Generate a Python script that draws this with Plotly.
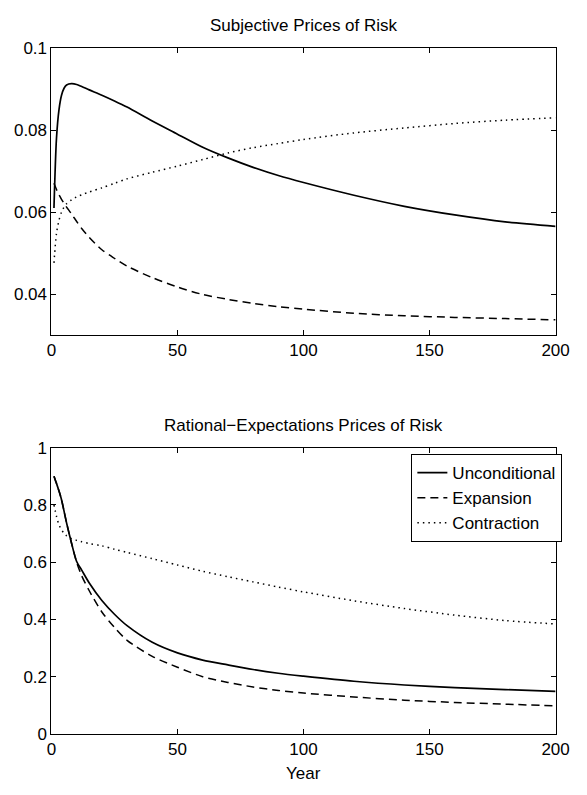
import plotly.graph_objects as go

# Horizon in years
years = [1, 2, 3, 4, 5, 6, 8, 10, 12, 15, 20, 25, 30, 40, 50, 60, 70, 80,
         90, 100, 120, 140, 160, 180, 200]

# Subjective prices of risk
subj_unconditional = [0.0610, 0.0780, 0.0850, 0.0885, 0.0902, 0.0910, 0.0913,
                      0.0911, 0.0906, 0.0898, 0.0885, 0.0871, 0.0856, 0.0822,
                      0.0790, 0.0758, 0.0732, 0.0709, 0.0689, 0.0672, 0.0641,
                      0.0614, 0.0593, 0.0576, 0.0565]
subj_expansion = [0.0670, 0.0655, 0.0642, 0.0631, 0.0621, 0.0612, 0.0595,
                  0.0577, 0.0560, 0.0538, 0.0508, 0.0487, 0.0468, 0.0440,
                  0.0417, 0.0399, 0.0387, 0.0377, 0.0369, 0.0363, 0.0353,
                  0.0347, 0.0343, 0.0340, 0.0337]
subj_contraction = [0.0476, 0.0548, 0.0580, 0.0600, 0.0612, 0.0620, 0.0630,
                    0.0637, 0.0642, 0.0649, 0.0659, 0.0670, 0.0681, 0.0697,
                    0.0712, 0.0728, 0.0744, 0.0757, 0.0767, 0.0777, 0.0793,
                    0.0805, 0.0816, 0.0824, 0.0830]

# Rational-expectations prices of risk
re_unconditional = [0.900, 0.875, 0.848, 0.818, 0.778, 0.737, 0.665, 0.602,
                    0.572, 0.527, 0.466, 0.418, 0.378, 0.320, 0.283, 0.258,
                    0.241, 0.225, 0.212, 0.202, 0.184, 0.171, 0.162, 0.155,
                    0.149]
re_expansion = [0.900, 0.875, 0.848, 0.818, 0.778, 0.737, 0.665, 0.600,
                0.552, 0.500, 0.426, 0.372, 0.327, 0.271, 0.233, 0.200,
                0.180, 0.164, 0.152, 0.143, 0.129, 0.118, 0.110, 0.104, 0.098]
re_contraction = [0.800, 0.760, 0.730, 0.714, 0.700, 0.692, 0.682, 0.676,
                  0.671, 0.665, 0.657, 0.645, 0.634, 0.612, 0.590, 0.568,
                  0.549, 0.531, 0.513, 0.496, 0.465, 0.438, 0.415, 0.396,
                  0.384]

series_names = ["Unconditional", "Expansion", "Contraction"]

x_ticks = [0, 50, 100, 150, 200]
top_y_ticks = [0.04, 0.06, 0.08, 0.1]
top_y_labels = ["0.04", "0.06", "0.08", "0.1"]
bot_y_ticks = [0, 0.2, 0.4, 0.6, 0.8, 1]
bot_y_labels = ["0", "0.2", "0.4", "0.6", "0.8", "1"]

FONT = "Liberation Sans, Arial, Helvetica, sans-serif"
FS = 17
styles = [
    dict(color="black", width=1.7, dash="solid", shape="spline", smoothing=0.8),
    dict(color="black", width=1.5, dash="8px,5px", shape="spline", smoothing=0.8),
    dict(color="black", width=1.5, dash="1.5px,4px", shape="spline", smoothing=0.8),
]

fig = go.Figure()

for name, ys, st in zip(series_names,
                        [subj_unconditional, subj_expansion, subj_contraction],
                        styles):
    fig.add_trace(go.Scatter(x=years, y=ys, mode="lines", name=name,
                             line=st, showlegend=False,
                             xaxis="x", yaxis="y"))

for name, ys, st in zip(series_names,
                        [re_unconditional, re_expansion, re_contraction],
                        styles):
    fig.add_trace(go.Scatter(x=years, y=ys, mode="lines", name=name,
                             line=st, showlegend=True,
                             xaxis="x2", yaxis="y2"))

axis_common = dict(
    showgrid=False, zeroline=False, showline=True, linecolor="black",
    linewidth=1, mirror="ticks", ticks="inside", ticklen=5,
    tickcolor="black", tickwidth=1,
    tickfont=dict(family=FONT, size=FS, color="black"),
)

x_dom = [48 / 587, 569 / 587]
fig.update_layout(
    width=587, height=795, autosize=False,
    margin=dict(l=0, r=0, t=0, b=0),
    paper_bgcolor="white", plot_bgcolor="white",
    font=dict(family=FONT, size=FS, color="black"),
    xaxis=dict(domain=x_dom, range=[0, 200], tickvals=x_ticks,
               anchor="y", **axis_common),
    yaxis=dict(domain=[1 - 334 / 795, 1 - 40 / 795], range=[0.03, 0.1],
               tickvals=top_y_ticks, ticktext=top_y_labels,
               anchor="x", **axis_common),
    xaxis2=dict(domain=x_dom, range=[0, 200], tickvals=x_ticks,
                anchor="y2", **axis_common),
    yaxis2=dict(domain=[1 - 742.7 / 795, 1 - 449.3 / 795], range=[0, 1],
                tickvals=bot_y_ticks, ticktext=bot_y_labels,
                anchor="x2", **axis_common),
    legend=dict(x=576 / 587, y=1 - 456 / 795, xanchor="right", yanchor="top",
                bgcolor="white", bordercolor="black", borderwidth=1,
                font=dict(family=FONT, size=FS, color="black"),
                tracegroupgap=0),
    annotations=[
        dict(text="Subjective Prices of Risk", x=308.5 / 587, y=1 - 17 / 795,
             xref="paper", yref="paper", showarrow=False,
             xanchor="center", yanchor="middle",
             font=dict(family=FONT, size=FS, color="black")),
        dict(text="Rational\u2212Expectations Prices of Risk", x=308.5 / 587,
             y=1 - 427 / 795, xref="paper", yref="paper", showarrow=False,
             xanchor="center", yanchor="middle",
             font=dict(family=FONT, size=FS, color="black")),
        dict(text="Year", x=308.5 / 587, y=1 - 783 / 795,
             xref="paper", yref="paper", showarrow=False,
             xanchor="center", yanchor="middle",
             font=dict(family=FONT, size=FS, color="black")),
    ],
)

fig.write_html("out.html")
